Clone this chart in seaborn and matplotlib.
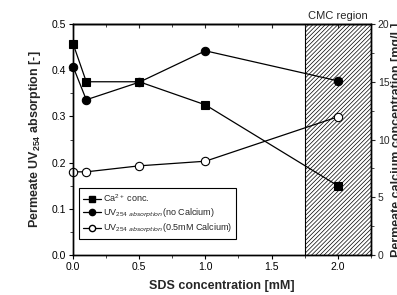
import matplotlib
matplotlib.use("Agg")
import matplotlib.pyplot as plt
import seaborn as sns
import pandas as pd
from matplotlib.ticker import MultipleLocator, FormatStrFormatter
from matplotlib.lines import Line2D

sds = [0.0, 0.1, 0.5, 1.0, 2.0]
ca_conc = [18.3, 15.0, 15.0, 13.0, 6.0]
uv_no_ca = [0.408, 0.336, 0.374, 0.442, 0.377]
uv_ca = [0.180, 0.180, 0.193, 0.203, 0.299]

sns.set_theme(style="ticks")
plt.rcParams['font.family'] = ['Liberation Sans', 'DejaVu Sans']
plt.rcParams['mathtext.fontset'] = 'custom'
plt.rcParams['mathtext.rm'] = 'Liberation Sans'
plt.rcParams['mathtext.bf'] = 'Liberation Sans:bold'
plt.rcParams['hatch.linewidth'] = 0.5

fig = plt.figure(figsize=(3.97, 2.95), dpi=100)
ax = fig.add_axes([0.184, 0.1356, 0.750, 0.783])
ax2 = ax.twinx()

df = pd.DataFrame({"sds": sds, "ca": ca_conc, "uv1": uv_no_ca, "uv2": uv_ca})

# CMC hatched region
ax.axvspan(1.75, 2.25, facecolor='white', edgecolor='black', hatch='////////', linewidth=0.8, zorder=0)

common = dict(color='black', linewidth=0.9, markeredgecolor='black', markeredgewidth=0.8, clip_on=False)
sns.lineplot(data=df, x="sds", y="uv1", ax=ax, marker='o', markersize=6,
             markerfacecolor='black', legend=False, **common)
sns.lineplot(data=df, x="sds", y="uv2", ax=ax, marker='o', markersize=6,
             markerfacecolor='white', legend=False, **common)
sns.lineplot(data=df, x="sds", y="ca", ax=ax2, marker='s', markersize=5.5,
             markerfacecolor='black', legend=False, **common)

ax.set_xlim(0, 2.25)
ax.set_ylim(0, 0.5)
ax2.set_ylim(0, 20)
ax.xaxis.set_major_locator(MultipleLocator(0.5))
ax.xaxis.set_minor_locator(MultipleLocator(0.25))
ax.xaxis.set_major_formatter(FormatStrFormatter('%.1f'))
ax.yaxis.set_major_locator(MultipleLocator(0.1))
ax.yaxis.set_minor_locator(MultipleLocator(0.05))
ax.yaxis.set_major_formatter(FormatStrFormatter('%.1f'))
ax2.yaxis.set_major_locator(MultipleLocator(5))
ax2.yaxis.set_minor_locator(MultipleLocator(2.5))

for a in (ax, ax2):
    for s in a.spines.values():
        s.set_linewidth(1.0)
        s.set_color('black')
        s.set_visible(True)
ax.tick_params(axis='both', which='major', direction='out', length=3, width=0.8, labelsize=7.5, colors='black', pad=2)
ax.tick_params(axis='both', which='minor', direction='out', length=2, width=0.6)
ax.tick_params(axis='x', top=False, which='both')
ax2.tick_params(axis='y', which='major', direction='out', length=3, width=0.8, labelsize=7.5, pad=2)
ax2.tick_params(axis='y', which='minor', direction='out', length=2, width=0.6)

# top ticks pointing inward
sec = ax.secondary_xaxis('top')
sec.xaxis.set_major_locator(MultipleLocator(0.5))
sec.xaxis.set_minor_locator(MultipleLocator(0.25))
sec.tick_params(which='major', direction='in', labeltop=False, length=3, width=0.8)
sec.tick_params(which='minor', direction='in', labeltop=False, length=2, width=0.6)
sec.spines['top'].set_linewidth(1.0)

ax.set_xlabel("SDS concentration [mM]", fontsize=9, fontweight='bold', labelpad=6)
ax.set_ylabel(r"Permeate UV$_{\mathbf{254}}$ absorption [-]", fontsize=9, fontweight='bold', labelpad=6)
ax2.set_ylabel("Permeate calcium concentration [mg/L]", fontsize=9, fontweight='bold', labelpad=1)

ax.text(2.0, 0.507, "CMC region", ha='center', va='bottom', fontsize=8)

h_sq = Line2D([], [], color='black', marker='s', markersize=4.5, markerfacecolor='black', linewidth=0.9)
h_f = Line2D([], [], color='black', marker='o', markersize=4.5, markerfacecolor='black', linewidth=0.9)
h_o = Line2D([], [], color='black', marker='o', markersize=4.5, markerfacecolor='white', linewidth=0.9)
leg = ax.legend([h_sq, h_f, h_o],
                [r"Ca$^{2+}$ conc.", r"UV$_{254\ absorption}$(no Calcium)", r"UV$_{254\ absorption}$(0.5mM Calcium)"],
                loc='lower left', bbox_to_anchor=(0.005, 0.05), fontsize=6.5, frameon=True, fancybox=False,
                edgecolor='black', framealpha=1, handlelength=2.0, borderpad=0.4, labelspacing=0.3, handletextpad=0.3)
leg.get_frame().set_linewidth(0.8)

fig.savefig("out.png", dpi=100)
